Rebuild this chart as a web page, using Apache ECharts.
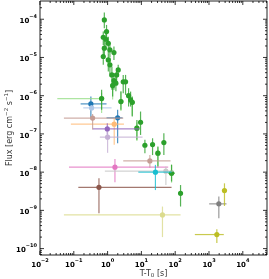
<!DOCTYPE html>
<html><head><meta charset="utf-8">
<script src="https://cdn.jsdelivr.net/npm/echarts@6/dist/echarts.min.js"></script>
<style>html,body{margin:0;padding:0;background:#fff}#c{width:269px;height:279px}</style>
</head><body><div id="c"></div>
<script>
// Axis settings (decade exponents for tick labels)
const xTickExps = [-2, -1, 0, 1, 2, 3, 4];
const yTickExps = [-10, -9, -8, -7, -6, -5, -4];
const xRange = [0.01, 5.2e4];
const yRange = [6.8e-11, 3.0e-4];

// Data rows: [t, flux, tLow, tHigh, fluxLow, fluxHigh]
const blue = [[0.32, 6.1e-7, 0.159, 0.93, 2.6e-7, 9.5e-7], [1.98, 2.63e-7, 0.93, 2.77, 5.7e-8, 4.3e-7]];
const lightBlue = [[0.336, 4.8e-7, 0.19, 1.31, 4.1e-7, 5.6e-7]];
const lightOrange = [[1.57, 1.8e-7, 0.082, 3.04, 5.2e-8, 2.6e-7]];
const green = [
  [0.80, 9.6e-5, null, null, 5.8e-5, 1.49e-4],
  [0.93, 4.76e-5, null, null, 2.9e-5, 7.1e-5],
  [0.745, 3.38e-5, null, null, 2.13e-5, 4.75e-5],
  [0.89, 3.0e-5, null, null, 1.58e-5, 4.3e-5],
  [1.05, 2.35e-5, null, null, 1.29e-5, 3.5e-5],
  [0.80, 1.75e-5, null, null, 9.5e-6, 2.9e-5],
  [1.54, 1.34e-5, null, null, 8.6e-6, 1.93e-5],
  [1.17, 1.58e-5, null, null, 1.0e-5, 2.2e-5],
  [0.745, 1.06e-5, null, null, 6.4e-6, 1.58e-5],
  [1.05, 8.6e-6, null, null, 4.3e-6, 1.29e-5],
  [1.17, 6.4e-6, null, null, 3.16e-6, 9.5e-6],
  [2.06, 4.73e-6, null, null, 3.16e-6, 6.4e-6],
  [1.34, 3.5e-6, null, null, 1.42e-6, 5.8e-6],
  [1.85, 3.5e-6, null, null, 2.34e-6, 5.2e-6],
  [1.54, 2.49e-6, null, null, 1.42e-6, 3.9e-6],
  [1.41, 1.84e-6, null, null, 9.5e-7, 2.6e-6],
  [1.76, 2.12e-6, null, null, 1.3e-6, 3.2e-6],
  [2.9, 2.3e-6, null, null, 1.16e-6, 3.5e-6],
  [3.4, 2.3e-6, null, null, 1.05e-6, 3.5e-6],
  [2.48, 7.0e-7, null, null, 4.3e-7, 1.28e-6],
  [4.18, 1.0e-6, null, null, 5.2e-7, 1.57e-6],
  [4.79, 7.8e-7, null, null, 5.2e-7, 1.28e-6],
  [5.36, 6.7e-7, null, null, 2.84e-7, 9.5e-7],
  [0.665, 8.4e-7, null, null, 4.3e-7, 1.42e-6],
  [7.36, 1.41e-7, null, null, 7.0e-8, 2.33e-7],
  [9.44, 2.02e-7, null, null, 9.4e-8, 3.85e-7],
  [12.7, 5.06e-8, null, null, 3.1e-8, 7.0e-8],
  [21.4, 5.27e-8, null, null, 2.8e-8, 7.7e-8],
  [30.8, 3.13e-8, null, null, 1.4e-8, 4.7e-8],
  [46.2, 5.94e-8, null, null, 2.8e-8, 1.04e-7],
  [78, 9.4e-9, 62, 98, 5.7e-9, 1.55e-8],
  [144, 2.8e-9, null, null, 1.26e-9, 4.6e-9]
];
const lightGreen = [
  [0.665, 8.4e-7, 0.0325, 0.665, 3.5e-7, 1.2e-6],
  [2.48, 7.0e-7, null, null, 4.0e-7, 1.3e-6],
  [1.41, 1.84e-6, null, null, 8.0e-7, 3.0e-6],
  [5.36, 6.7e-7, null, null, 3.0e-7, 9.0e-7],
  [7.36, 1.41e-7, null, null, 6.5e-8, 2.0e-7],
  [30.8, 3.13e-8, null, null, 1.3e-8, 4.5e-8],
  [78, 9.4e-9, 70, 90, 5.3e-9, 1.6e-8]
];
const purple = [[0.98, 1.35e-7, 0.36, 8.6, 9.5e-8, 1.9e-7]];
const lightPurple = [[1.0, 8.2e-8, 0.59, 10.8, 3.2e-8, 1.15e-7]];
const brown = [[0.555, 4.0e-9, 0.136, 78, 8.4e-10, 6.9e-9]];
const lightBrown = [[0.36, 2.6e-7, 0.051, 2.9, 1.3e-7, 3.3e-7], [17.8, 1.97e-8, 2.9, 72.8, 1.3e-8, 2.8e-8]];
const pink = [[1.65, 1.35e-8, 0.072, 62, 5.4e-9, 2.2e-8]];
const gray = [[1954, 1.48e-9, 1012, 3290, 6.2e-10, 2.3e-9]];
const lightGray = [[53, 1.06e-8, 0.83, 91, 4.6e-9, 1.4e-8]];
const olive = [[2870, 3.3e-9, null, null, 1.3e-9, 5.1e-9], [1706, 2.33e-10, 381, 2740, 1.4e-10, 3.2e-10]];
const lightOlive = [[42, 7.6e-10, 0.051, 144, 2.0e-10, 1.26e-9]];
const cyan = [[26, 1.0e-8, 8.1, 78, 3.4e-9, 1.55e-8]];

const lg = Math.log10;
const X0 = lg(xRange[0]), X1 = lg(xRange[1]), Y0 = lg(yRange[0]), Y1 = lg(yRange[1]);

function toLog(rows) {
  return rows.map(r => [lg(r[0]), lg(r[1]),
    lg(r[2] == null ? r[0] : r[2]), lg(r[3] == null ? r[0] : r[3]),
    lg(r[4] == null ? r[1] : r[4]), lg(r[5] == null ? r[1] : r[5])]);
}
function errSeries(rows, color, barColor) {
  return {
    type: 'custom', data: toLog(rows), encode: { x: 0, y: 1 },
    renderItem: function (params, api) {
      const t = api.value(0), f = api.value(1), tl = api.value(2), th = api.value(3), fl = api.value(4), fh = api.value(5);
      const ch = [];
      const ls = { stroke: barColor, lineWidth: 1.2, opacity: 0.8 };
      if (th > tl) {
        const a = api.coord([tl, f]), b = api.coord([th, f]);
        ch.push({ type: 'line', shape: { x1: a[0], y1: a[1], x2: b[0], y2: b[1] }, style: ls });
      }
      if (fh > fl) {
        const a = api.coord([t, fl]), b = api.coord([t, fh]);
        ch.push({ type: 'line', shape: { x1: a[0], y1: a[1], x2: b[0], y2: b[1] }, style: ls });
      }
      const p = api.coord([t, f]);
      ch.push({ type: 'circle', shape: { cx: p[0], cy: p[1], r: 2.6 }, style: { fill: color } });
      return { type: 'group', children: ch };
    }
  };
}

// tick marks (decoration): [x, y, kind] kind 0 x-major,1 x-minor,2 y-major,3 y-minor
const tickData = [];
for (let n = -2; n <= 4; n++) {
  tickData.push([n, Y0, 0]);
  for (let k = 2; k <= 9; k++) { const v = n + lg(k); if (v < X1) tickData.push([v, Y0, 1]); }
}
for (let n = -11; n <= -4; n++) {
  if (n >= Y0) tickData.push([X0, n, 2]);
  for (let k = 2; k <= 9; k++) { const v = n + lg(k); if (v > Y0 && v < Y1) tickData.push([X0, v, 3]); }
}
const tickSeries = {
  type: 'custom', data: tickData, encode: { x: 0, y: 1 }, z: 10, silent: true,
  renderItem: function (params, api) {
    const kind = api.value(2);
    const st = { stroke: '#000', lineWidth: 0.8 };
    const len = (kind === 0 || kind === 2) ? 4 : 2;
    if (kind < 2) {
      const b = api.coord([api.value(0), Y0]), t = api.coord([api.value(0), Y1]);
      return { type: 'group', children: [
        { type: 'line', shape: { x1: b[0], y1: b[1], x2: b[0], y2: b[1] - len }, style: st },
        { type: 'line', shape: { x1: t[0], y1: t[1], x2: t[0], y2: t[1] + len }, style: st }] };
    } else {
      const l = api.coord([X0, api.value(1)]), r = api.coord([X1, api.value(1)]);
      return { type: 'group', children: [
        { type: 'line', shape: { x1: l[0], y1: l[1], x2: l[0] + len, y2: l[1] }, style: st },
        { type: 'line', shape: { x1: r[0], y1: r[1], x2: r[0] - len, y2: r[1] }, style: st }] };
    }
  }
};

function expLabel(v) {
  const e = Math.round(v);
  return '{b|10}{s|' + (e < 0 ? '\u2212' + (-e) : e) + '}';
}
const labelRich = {
  b: { fontFamily: 'DejaVu Sans', fontWeight: 'bold', fontSize: 7, color: '#000', lineHeight: 11, verticalAlign: 'bottom' },
  s: { fontFamily: 'DejaVu Sans', fontWeight: 'bold', fontSize: 5, color: '#000', lineHeight: 11, verticalAlign: 'top' }
};

const chart = echarts.init(document.getElementById('c'), null, { renderer: 'canvas' });
chart.setOption({
  animation: false,
  grid: { left: 40, right: 2, top: 1, bottom: 24, show: true, borderColor: '#222', borderWidth: 1,
    containLabel: false, outerBoundsMode: 'none' },
  xAxis: {
    type: 'value', min: X0, max: X1,
    axisLine: { show: false }, axisTick: { show: false }, splitLine: { show: false },
    axisLabel: { customValues: xTickExps, formatter: expLabel, rich: labelRich, margin: 3 },
    name: 'T-T{sub|0} [s]', nameLocation: 'middle', nameGap: 13, nameMoveOverlap: false,
    nameTextStyle: { fontFamily: 'DejaVu Sans', fontSize: 8, color: '#333',
      rich: { sub: { fontFamily: 'DejaVu Sans', fontSize: 5.5, color: '#333', verticalAlign: 'bottom', lineHeight: 11 } } }
  },
  yAxis: {
    type: 'value', min: Y0, max: Y1,
    axisLine: { show: false }, axisTick: { show: false }, splitLine: { show: false },
    axisLabel: { customValues: yTickExps, formatter: expLabel, rich: labelRich, margin: 3 },
    name: 'Flux [erg cm{s|\u22122} s{s|\u22121}]', nameLocation: 'middle', nameGap: 25, nameRotate: 90, nameMoveOverlap: false,
    nameTextStyle: { fontFamily: 'DejaVu Sans', fontSize: 8, color: '#333',
      rich: { s: { fontFamily: 'DejaVu Sans', fontSize: 5.5, color: '#333', verticalAlign: 'top', lineHeight: 11 } } }
  },
  series: [
    errSeries(blue, '#1f77b4', '#1f77b4'),
    errSeries(lightBlue, '#aec7e8', '#aec7e8'),
    errSeries(lightOrange, '#ffbb78', '#ffbb78'),
    errSeries(lightGreen, '#98df8a', '#98df8a'),
    errSeries(green, '#2ca02c', '#2ca02c'),
    errSeries(purple, '#9467bd', '#9467bd'),
    errSeries(lightPurple, '#c5b0d5', '#c5b0d5'),
    errSeries(brown, '#8c564b', '#8c564b'),
    errSeries(lightBrown, '#c49c94', '#c49c94'),
    errSeries(pink, '#e377c2', '#e377c2'),
    errSeries(gray, '#7f7f7f', '#7f7f7f'),
    errSeries(lightGray, '#c7c7c7', '#c7c7c7'),
    errSeries(olive, '#bcbd22', '#bcbd22'),
    errSeries(lightOlive, '#dbdb8d', '#dbdb8d'),
    errSeries(cyan, '#17becf', '#17becf'),
    tickSeries
  ]
});
</script></body></html>
